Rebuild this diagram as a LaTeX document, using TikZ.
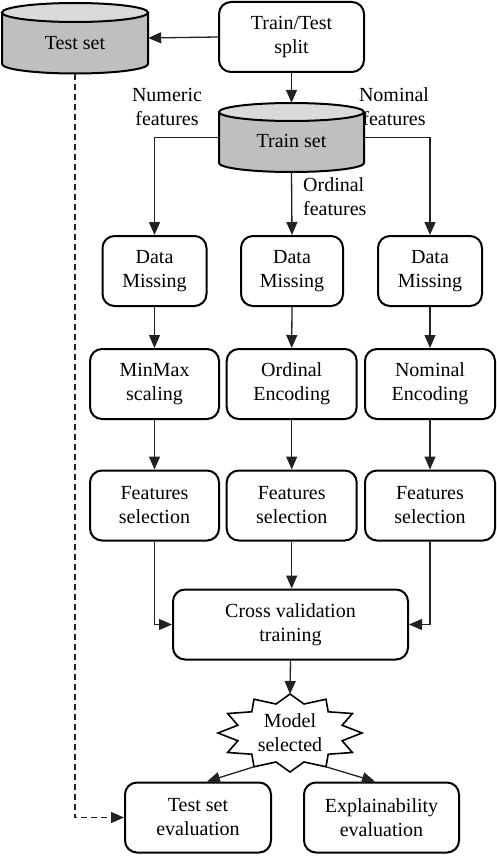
\documentclass[tikz,border=0pt]{standalone}
\usepackage{fontspec}
\setmainfont{Liberation Serif}
\usetikzlibrary{arrows.meta,calc}
\definecolor{cylbody}{HTML}{BFBFBF}
\definecolor{cyltop}{HTML}{DADADA}
\definecolor{linec}{HTML}{222222}
\begin{document}
\begin{tikzpicture}[x=1pt,y=-1pt,
  fnt/.style={font=\fontsize{20}{24}\selectfont},
  box/.style={fnt,draw=black,line width=2pt,rounded corners=12pt,align=center,inner sep=0pt,minimum height=70pt},
  txt/.style={fnt,align=center,inner sep=0pt},
  arr/.style={draw=linec,line width=1.3pt,-{Triangle[length=13pt,width=11pt]}},
  cylline/.style={line width=2pt,draw=black},
  anchorbox/.style={draw=none,inner sep=0pt}]
\useasboundingbox (0,0) rectangle (496,856);

% Test set cylinder
\fill[cylbody] (2,12.5) -- (2,64) arc (180:0:73 and 9.5) -- (148,12.5) -- cycle;
\draw[cylline] (2,12.5) -- (2,64) arc (180:0:73 and 9.5) -- (148,12.5);
\filldraw[cylline,fill=cyltop] (75,12.5) ellipse (73 and 9.5);
\node[anchorbox,minimum width=146pt,minimum height=71pt] (testset) at (75,38) {};
\node[txt] (testsettxt) at (75,43.5) {Test set};

% Train set cylinder
\fill[cylbody] (219,112) -- (219,163) arc (180:0:72.5 and 9) -- (364,112) -- cycle;
\draw[cylline] (219,112) -- (219,163) arc (180:0:72.5 and 9) -- (364,112);
\filldraw[cylline,fill=cyltop] (291.5,112) ellipse (72.5 and 9);
\node[anchorbox,minimum width=145pt,minimum height=69pt] (trainset) at (291.5,137.5) {};
\node[txt] (trainsettxt) at (291.5,141) {Train set};

% Boxes
\node[box,minimum width=145pt] (split) at (291.5,37) {Train/Test\\split};

\node[box,minimum width=104pt] (dm1) at (154.5,271) {Data\\Missing};
\node[box,minimum width=102pt] (dm2) at (292,271) {Data\\Missing};
\node[box,minimum width=104pt] (dm3) at (430,271) {Data\\Missing};

\node[box,minimum width=129pt] (enc1) at (154.5,384) {MinMax\\scaling};
\node[box,minimum width=130pt] (enc2) at (291.7,384) {Ordinal\\Encoding};
\node[box,minimum width=130pt] (enc3) at (430,384) {Nominal\\Encoding};

\node[box,minimum width=129pt] (fs1) at (154.5,505.5) {Features\\selection};
\node[box,minimum width=130pt] (fs2) at (291.7,505.5) {Features\\selection};
\node[box,minimum width=130pt] (fs3) at (430,505.5) {Features\\selection};

\node[box,minimum width=235pt] (cv) at (290.5,624.5) {Cross validation\\training};

\node[box,minimum width=146pt] (teval) at (198,817.5) {Test set\\evaluation};
\node[box,minimum width=155pt] (xeval) at (381.5,817.5) {Explainability\\evaluation};

% Star
\draw[line width=1.6pt,draw=black,fill=white]
  plot[samples at={0,...,23}] ({290+(mod(\x,2)==0 ? 72 : 54)*sin(\x*15)},{733-(mod(\x,2)==0 ? 39 : 30)*cos(\x*15)}) -- cycle;
\node[txt] (star) at (290,733) {Model\\selected};
\coordinate (startop) at (290,694);
\coordinate (starbl) at (254,766.8);
\coordinate (starbr) at (326,766.8);
\coordinate (tein) at ($(teval.north)+(9,0)$);
\coordinate (xein) at ($(xeval.north)+(-6.5,0)$);

% Labels
\node[txt] (numlbl) at (167,107) {Numeric\\features};
\node[txt] (nomlbl) at (394,107) {Nominal\\features};
\node[txt,align=left,anchor=west] (ordlbl) at (303,197) {Ordinal\\features};

% Connectors
\draw[arr] (split.west) -- (testset.east);
\draw[arr] (split.south) -- (trainset.north);
\draw[arr] (trainset.west) -| (dm1.north);
\draw[arr] (trainset.south) -- (dm2.north);
\draw[arr] (trainset.east) -| (dm3.north);

\draw[arr] (dm1) -- (enc1);
\draw[arr] (dm2.south) -- (enc2.north);
\draw[arr] (dm3) -- (enc3);
\draw[arr] (enc1) -- (fs1);
\draw[arr] (enc2) -- (fs2);
\draw[arr] (enc3) -- (fs3);

\draw[arr] (fs1.south) |- (cv.west);
\draw[arr] (fs2.south) -- (fs2.south |- cv.north);
\draw[arr] (fs3.south) |- (cv.east);

\draw[arr] (cv.south) -- (startop);
\draw[arr] (starbl) -- (tein);
\draw[arr] (starbr) -- (xein);

\draw[arr,dashed,dash pattern=on 6pt off 4pt] (testset.south) |- (teval.west);
\end{tikzpicture}
\end{document}
